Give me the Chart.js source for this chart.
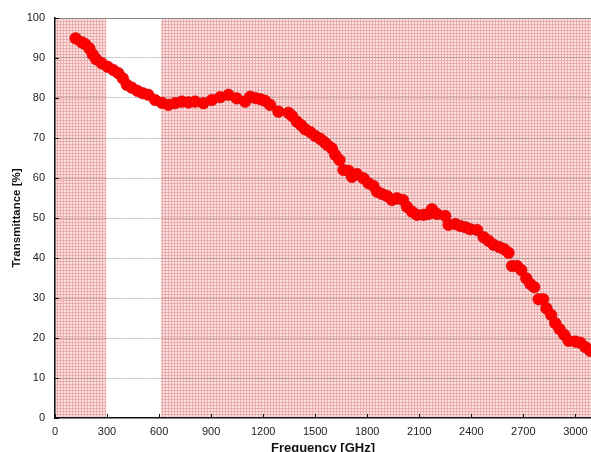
<!DOCTYPE html>
<html>
<head>
<meta charset="utf-8">
<script src="https://cdn.jsdelivr.net/npm/chart.js@4/dist/chart.umd.min.js"></script>
<style>
  html, body { margin: 0; padding: 0; background: #fff; overflow: hidden; }
  #wrap { width: 591px; height: 452px; overflow: hidden; }
</style>
</head>
<body>
<div id="wrap"><canvas id="chart" width="591" height="460"></canvas></div>
<script>
// ── Data ──
const freqGHz = [
  119, 154, 173, 198, 217, 237, 269, 304, 336, 365, 391, 414, 442, 475, 506, 538,
  577, 616, 654, 692, 731, 769, 808, 856, 904, 952, 1000, 1048, 1096, 1125, 1154, 1183,
  1211, 1240, 1288, 1346, 1367, 1394, 1419, 1442, 1471, 1500, 1529, 1552, 1569, 1596, 1615, 1640, 1663, 1692, 1712,
  1740, 1779, 1807, 1836, 1856, 1885, 1914, 1942, 1971, 2006, 2029, 2058, 2087,
  2125, 2154, 2173, 2202, 2250, 2269, 2308, 2336, 2365, 2394, 2433, 2471, 2500,
  2529, 2563, 2590, 2615, 2635, 2663, 2688, 2717, 2740, 2763, 2788, 2814, 2833,
  2860, 2884, 2909, 2936, 2961, 3000, 3029, 3058, 3086
];
const transmittance = [
  94.9, 93.9, 93.5, 92.4, 90.9, 89.7, 88.7, 87.8, 87.0, 86.2, 84.9, 83.3, 82.6, 81.8, 81.2, 80.8,
  79.5, 78.8, 78.3, 78.7, 79.1, 78.9, 79.1, 78.7, 79.5, 80.2, 80.8, 79.9, 79.1, 80.3, 80.0, 79.7,
  79.3, 78.3, 76.6, 76.3, 75.5, 74.1, 73.2, 72.2, 71.5, 70.5, 69.8, 69.0, 68.3, 67.4, 65.8, 64.5, 62.0, 61.8, 60.3,
  61.0, 59.9, 58.7, 58.0, 56.6, 56.0, 55.5, 54.5, 54.9, 54.5, 52.8, 51.6, 50.8,
  50.8, 51.0, 52.2, 51.0, 50.5, 48.3, 48.5, 48.0, 47.7, 47.2, 47.0, 45.2, 44.3,
  43.3, 42.7, 42.2, 41.3, 38.0, 38.0, 37.0, 34.9, 33.5, 32.7, 29.7, 29.7, 27.4,
  25.8, 23.7, 22.2, 20.8, 19.3, 19.1, 18.8, 17.7, 16.8
];
const xTicks = [0, 300, 600, 900, 1200, 1500, 1800, 2100, 2400, 2700, 3000];
const yTicks = [0, 10, 20, 30, 40, 50, 60, 70, 80, 90, 100];
// hatched frequency bands [from, to] in GHz
const shadedBands = [[0, 295], [611, 3090]];
const xRange = [0, 3090];
const yRange = [0, 100];

// ── Hatch pattern for the bands ──
function makeHatch() {
  const t = document.createElement('canvas');
  t.width = 3; t.height = 3;
  const c = t.getContext('2d');
  c.fillStyle = 'rgb(249,226,226)';
  c.fillRect(0, 0, 3, 3);
  c.fillStyle = 'rgb(239,172,172)';
  c.fillRect(0, 0, 3, 1);
  c.fillRect(0, 0, 1, 3);
  return c.createPattern(t, 'repeat');
}

const FONT = "'Liberation Sans', Arial, sans-serif";
const ctx = document.getElementById('chart').getContext('2d');
const hatch = makeHatch();

// ── Bands, frame and inward ticks ──
const framePlugin = {
  id: 'frame',
  beforeDraw(chart) {
    const { ctx, chartArea: a, scales: { x } } = chart;
    ctx.save();
    ctx.fillStyle = hatch;
    shadedBands.forEach(([lo, hi]) => {
      const x0 = Math.max(x.getPixelForValue(lo), a.left);
      const x1 = Math.min(x.getPixelForValue(hi), a.right);
      ctx.fillRect(x0, a.top, x1 - x0, a.bottom - a.top);
    });
    ctx.restore();
  },
  afterDraw(chart) {
    const { ctx, chartArea: a, scales: { x, y } } = chart;
    ctx.save();
    ctx.strokeStyle = '#8a8a8a';
    ctx.lineWidth = 1;
    ctx.beginPath();
    ctx.moveTo(a.left, a.top + 0.5);
    ctx.lineTo(a.right, a.top + 0.5);
    ctx.stroke();

    ctx.strokeStyle = '#111';
    ctx.beginPath();
    x.ticks.forEach(t => {
      const px = Math.round(x.getPixelForValue(t.value)) + 0.5;
      ctx.moveTo(px, a.bottom);
      ctx.lineTo(px, a.bottom - 4);
    });
    y.ticks.forEach(t => {
      const py = Math.round(y.getPixelForValue(t.value)) + 0.5;
      ctx.moveTo(a.left, py);
      ctx.lineTo(a.left + 4, py);
    });
    ctx.stroke();
    ctx.restore();
  }
};

new Chart(ctx, {
  type: 'scatter',
  data: {
    datasets: [{
      data: freqGHz.map((f, i) => ({ x: f, y: transmittance[i] })),
      backgroundColor: '#ff0000',
      borderColor: '#d00000',
      borderWidth: 0.6,
      pointRadius: 5.8,
      pointHoverRadius: 5.8,
      showLine: false,
    }],
  },
  options: {
    responsive: false,
    animation: false,
    devicePixelRatio: 1,
    layout: { autoPadding: false, padding: { top: 18, right: 0, bottom: 0, left: 0 } },
    plugins: { legend: { display: false }, tooltip: { enabled: false } },
    scales: {
      x: {
        type: 'linear',
        min: xRange[0],
        max: xRange[1],
        afterBuildTicks: s => { s.ticks = xTicks.map(v => ({ value: v })); },
        afterFit: s => { s.height = 42; s.paddingLeft = 0; s.paddingRight = 0; },
        ticks: {
          autoSkip: false,
          padding: 7,
          color: '#222',
          font: { family: FONT, size: 11 },
          maxRotation: 0,
          callback: v => String(v),
        },
        grid: { display: false, drawTicks: false },
        border: { display: true, color: '#111', width: 1.5 },
        title: {
          display: true,
          text: 'Frequency [GHz]',
          color: '#111',
          font: { family: FONT, size: 13, weight: 'bold' },
          padding: { top: 0, bottom: 4 },
        },
      },
      y: {
        min: yRange[0],
        max: yRange[1],
        afterBuildTicks: s => { s.ticks = yTicks.map(v => ({ value: v })); },
        afterFit: s => { s.width = 55; s.paddingTop = 0; s.paddingBottom = 0; },
        ticks: {
          padding: 10,
          color: '#222',
          font: { family: FONT, size: 11 },
        },
        grid: {
          drawTicks: false,
          color: c => (c.tick && (c.tick.value === 0 || c.tick.value === 100)) ? 'rgba(0,0,0,0)' : 'rgba(100,100,100,0.45)',
          lineWidth: 1,
        },
        border: { display: true, color: '#111', width: 1.5, dash: [2, 1] },
        title: {
          display: true,
          text: 'Transmittance [%]',
          color: '#111',
          font: { family: FONT, size: 11.5, weight: 'bold' },
          padding: { top: 10, bottom: 0 },
        },
      },
    },
  },
  plugins: [framePlugin],
});
</script>
</body>
</html>
